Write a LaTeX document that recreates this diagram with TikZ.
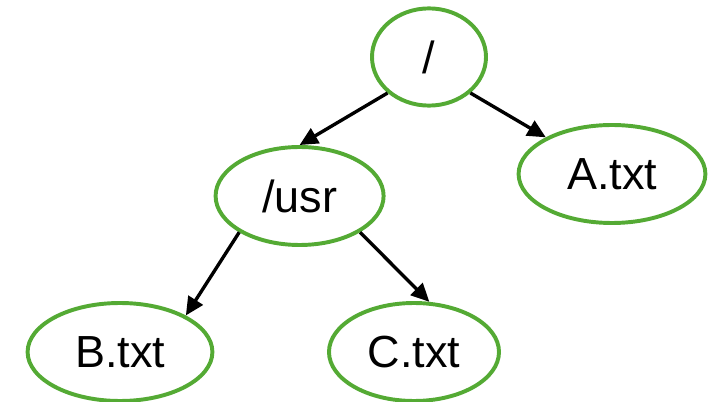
\documentclass[tikz,border=0pt]{standalone}
\usepackage{fontspec}
\setmainfont{Liberation Sans}
\usetikzlibrary{shapes.geometric,arrows.meta}

\definecolor{leaf}{RGB}{84,170,52}

\begin{document}
\begin{tikzpicture}[
        fnode/.style={ellipse, draw=leaf, line width=2.8pt, inner sep=0pt,
          minimum height=2.45cm, font=\fontsize{32}{38}\selectfont},
        link/.style={line width=2.4pt, -{Triangle[length=13pt,width=12pt]}}]
        \useasboundingbox (0,0) rectangle (18,-10.05);

        % directory tree
        \node[fnode, minimum width=2.85cm, minimum height=2.43cm] (root) at (10.725,-1.425) {/};
        \node[fnode, minimum width=4.2cm] (usr) at (7.49,-4.9) {/usr};
        \node[fnode, minimum width=4.67cm] (atxt) at (15.3,-4.35) {A.txt};
        \node[fnode, minimum width=4.62cm] (btxt) at (3.0,-8.8) {B.txt};
        \node[fnode, minimum width=4.25cm] (ctxt) at (10.35,-8.8) {C.txt};

        \draw[link] (root.221) -- (usr.90);
        \draw[link] (root.319) -- (atxt.151);
        \draw[link] (usr.211) -- (btxt.29);
        \draw[link] (usr.329) -- (ctxt.73);

        \end{tikzpicture}
\end{document}
